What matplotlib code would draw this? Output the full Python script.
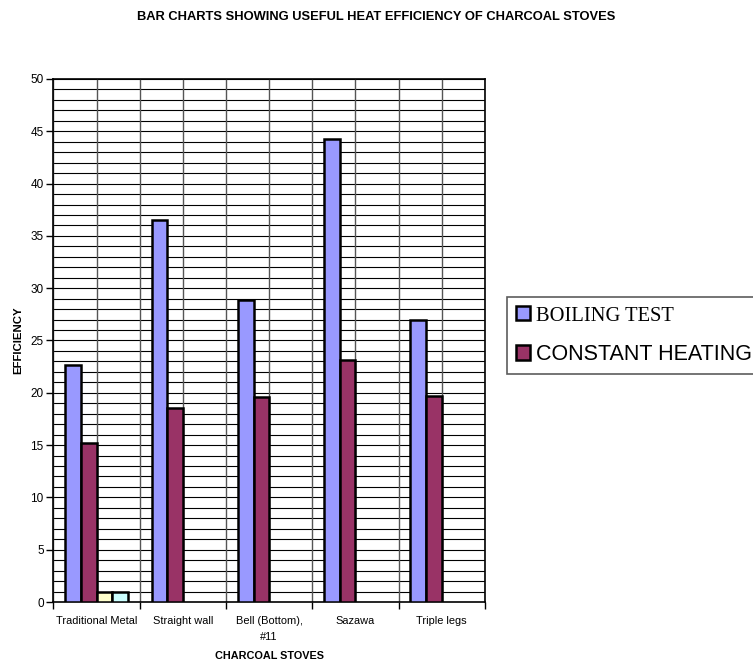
import numpy as np
import matplotlib.pyplot as plt
from matplotlib.ticker import MultipleLocator, FixedLocator, NullFormatter

plt.rcParams['font.family'] = ['Liberation Sans', 'DejaVu Sans']

stoves = ['Traditional Metal', 'Straight wall', 'Bell (Bottom),\n#11', 'Sazawa', 'Triple legs']
boiling_test = [22.7, 36.5, 28.9, 44.3, 27.0]
constant_heating = [15.2, 18.5, 19.6, 23.1, 19.7]
series3 = [1.0, 0, 0, 0, 0]
series4 = [1.0, 0, 0, 0, 0]

colors = ['#9999ff', '#993366', '#ffffcc', '#ccffff']

fig = plt.figure(figsize=(7.53, 6.62), dpi=100)
ax = fig.add_axes([0.071, 0.0906, 0.573, 0.7901])

x = np.arange(len(stoves))
w = 1 / 5.5
all_series = [boiling_test, constant_heating, series3, series4]
bars = []
for i, vals in enumerate(all_series):
    pos = x - 2 * w + w / 2 + i * w
    vals = np.array(vals, dtype=float)
    mask = vals > 0
    b = ax.bar(pos[mask], vals[mask], w, color=colors[i], edgecolor='black',
               linewidth=1.8, zorder=3)
    bars.append(b)

ax.set_xlim(-0.5, len(stoves) - 0.5)
ax.set_ylim(0, 50)
ax.yaxis.set_major_locator(MultipleLocator(5))
ax.yaxis.set_minor_locator(MultipleLocator(1))
ax.xaxis.set_major_locator(FixedLocator(np.arange(-0.5, len(stoves), 1)))
ax.xaxis.set_minor_locator(FixedLocator(x))
ax.xaxis.set_major_formatter(NullFormatter())
ax.xaxis.set_minor_formatter(plt.FixedFormatter(stoves))
ax.tick_params(axis='x', which='minor', length=0, labelsize=7.9, pad=10)
ax.tick_params(axis='x', which='major', length=5, width=1)
ax.tick_params(axis='y', which='major', length=5, width=1, labelsize=8.5, pad=2)
ax.tick_params(axis='y', which='minor', length=0)
for t in ax.get_xminorticklabels():
    t.set_linespacing(1.7)

# gridlines: every unit horizontally, every half category vertically
for yv in np.arange(1, 51, 1):
    ax.axhline(yv, color='black', lw=0.8, zorder=1)
for xv in np.arange(-0.5, len(stoves), 0.5):
    ax.axvline(xv, color='#555555', lw=1.0, zorder=1)

for s in ax.spines.values():
    s.set_linewidth(1.2)
    s.set_color('black')

ax.set_ylabel('EFFICIENCY', fontsize=8.2, fontweight='bold', labelpad=5)
ax.set_xlabel('CHARCOAL STOVES', fontsize=7.8, fontweight='bold', va='center')
ax.xaxis.set_label_coords(0.5, -0.1033)
fig.text(0.5, 0.975, 'BAR CHARTS SHOWING USEFUL HEAT EFFICIENCY OF CHARCOAL STOVES',
         ha='center', va='center', fontsize=9.3, fontweight='bold')

leg = fig.legend([bars[0], bars[1]], ['BOILING TEST', 'CONSTANT HEATING'],
                 loc='upper left', bbox_to_anchor=(0.673, 0.5514),
                 fontsize=15.5, frameon=True, fancybox=False, edgecolor='#333333',
                 handlelength=0.65, handleheight=0.65, handletextpad=0.3,
                 labelspacing=0.85, borderpad=0.42, borderaxespad=0)
leg.get_frame().set_linewidth(1.2)
leg.get_texts()[0].set_fontfamily('Liberation Serif')
leg.get_texts()[0].set_fontsize(14.8)

fig.savefig('out.png', dpi=100)
